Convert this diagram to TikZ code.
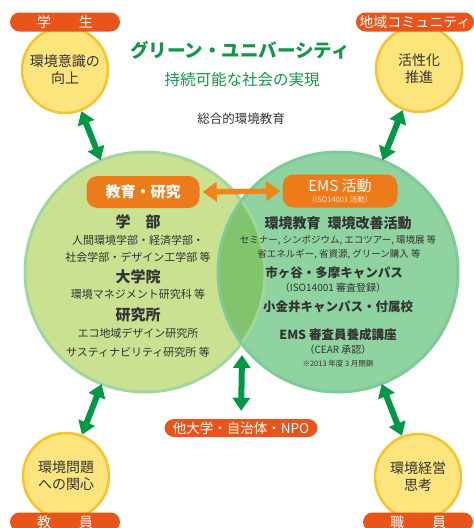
\documentclass[tikz,border=0pt]{standalone}
\usepackage{fontspec}
\setmainfont{Noto Sans CJK JP}
\usetikzlibrary{arrows.meta}
\definecolor{cgreen}{HTML}{009844}
\definecolor{ctitle}{HTML}{13954A}
\definecolor{ctext}{HTML}{333333}
\definecolor{cyel}{HTML}{FDE47C}
\definecolor{cyelb}{HTML}{F8C330}
\definecolor{cpill}{HTML}{E8541A}
\definecolor{cobox}{HTML}{EE7B1A}
\definecolor{corange}{HTML}{F08519}
\definecolor{cLfill}{HTML}{C9E191}
\definecolor{cLbord}{HTML}{A3D69E}
\definecolor{cRfill}{HTML}{8FD3A1}
\definecolor{cRbord}{HTML}{7DCB97}
\definecolor{cOver}{HTML}{80C46B}
\definecolor{csub}{HTML}{FCE3C8}
\tikzset{
 big/.style={circle, minimum size=240pt, inner sep=0pt},
 small/.style={circle, minimum size=86pt, inner sep=0pt, fill=cyel, draw=cyelb, line width=2.5pt, align=center, text=ctext, font=\fontsize{14}{17}\selectfont},
 pill/.style={rounded corners=9.5pt, fill=cpill, minimum height=19pt, inner sep=0pt, text=white, font=\fontsize{14}{14}\selectfont},
 obox/.style={rounded corners=11pt, fill=cobox, text=white, inner sep=0pt, align=center},
 garrow/.style={draw=cgreen, line width=6pt, {Triangle[width=17pt,length=13pt]}-{Triangle[width=17pt,length=13pt]}},
 oarrow/.style={draw=corange, line width=5.5pt, {Triangle[width=19pt,length=14pt]}-{Triangle[width=19pt,length=14pt]}},
 hd/.style={font=\bfseries\fontsize{15}{15}\selectfont, text=ctext, inner sep=0pt},
 hdr/.style={font=\bfseries\fontsize{12.5}{12.5}\selectfont, text=ctext, inner sep=0pt},
 tx/.style={font=\fontsize{11}{11}\selectfont, text=ctext, inner sep=0pt},
 txs/.style={font=\fontsize{9.5}{9.5}\selectfont, text=ctext, inner sep=0pt},
}
\begin{document}
\begin{tikzpicture}[x=1pt,y=-1pt]
\useasboundingbox (0,0) rectangle (474,528);
% big circles
\node[big, fill=cLfill] (L) at (145,272) {};
\node[big, fill=cRfill] (R) at (338,272) {};
\begin{scope}
\clip (145,272) circle[radius=120pt];
\fill[cOver] (338,272) circle[radius=120pt];
\end{scope}
\draw[cLbord, line width=3pt] (L.center) circle[radius=120pt];
\draw[cRbord, line width=3pt] (R.center) circle[radius=120pt];
% header
\node[font=\bfseries\fontsize{18.5}{18.5}\selectfont, text=ctitle] (title) at (240,50) {グリーン・ユニバーシティ};
\node[font=\fontsize{15.5}{15.5}\selectfont, text=ctitle] (subtitle) at (242,80) {持続可能な社会の実現};
\node[font=\fontsize{12.5}{12.5}\selectfont, text=ctext] (sogo) at (241,119) {総合的環境教育};
% small circles
\node[small] (s1) at (65,70) {環境意識の\\向上};
\node[small] (s2) at (419,69) {活性化\\推進};
\node[small] (s3) at (66,476) {環境問題\\への関心};
\node[small] (s4) at (418,477) {環境経営\\思考};
% pills
\node[pill, minimum width=110pt] (p1) at (65,22) {学\hspace{2em}生};
\node[pill, minimum width=118pt] (p2) at (415,22) {地域コミュニティ};
\node[pill, minimum width=110pt] (p3) at (65,522) {教\hspace{2em}員};
\node[pill, minimum width=110pt] (p4) at (418,522) {職\hspace{2em}員};
\node[pill, minimum width=153pt, minimum height=18pt, font=\fontsize{13.5}{13.5}\selectfont] (other) at (241,428) {他大学・自治体・NPO};
% green arrows
\draw[garrow] (s1) -- (L);
\draw[garrow] (s2) -- (R);
\draw[garrow] (s3) -- (L);
\draw[garrow] (s4) -- (R);
\coordinate (ctop) at (242,355);
\draw[garrow, shorten >=8pt] (ctop) -- (other.north);
% orange boxes
\node[obox, minimum width=113pt, minimum height=32pt, font=\bfseries\fontsize{15}{15}\selectfont] (kyo) at (143,192) {教育・研究};
\node[obox, minimum width=115pt, minimum height=33pt] (ems) at (340,191) {};
\node[text=white, font=\fontsize{15}{15}\selectfont, inner sep=0pt] (emst) at (340,186) {EMS 活動};
\node[text=csub, font=\fontsize{7.5}{7.5}\selectfont, inner sep=0pt] (emss) at (340,200) {（ISO14001 活動）};
\draw[oarrow, shorten <=3pt, shorten >=2pt] (kyo.east) -- (ems.west);
% left circle texts
\node[hd] (l1) at (138,222) {学\hspace{1em}部};
\node[tx] (l2) at (138,240) {人間環境学部・経済学部・};
\node[tx] (l3) at (138,257) {社会学部・デザイン工学部 等};
\node[hd] (l4) at (138,277) {大学院};
\node[tx] (l5) at (138,294) {環境マネジメント研究科 等};
\node[hd] (l6) at (138,315) {研究所};
\node[tx] (l7) at (138,333) {エコ地域デザイン研究所};
\node[tx] (l8) at (138,352) {サスティナビリティ研究所 等};
% right circle texts
\node[hd, font=\bfseries\fontsize{14}{14}\selectfont] (r1) at (338,223) {環境教育\hspace{0.5em}環境改善活動};
\node[txs] (r2) at (338,240) {セミナー, シンポジウム, エコツアー, 環境展 等};
\node[txs] (r3) at (339,254) {省エネルギー, 省資源, グリーン購入 等};
\node[hdr] (r4) at (334,273) {市ヶ谷・多摩キャンパス};
\node[tx, font=\fontsize{10}{10}\selectfont] (r5) at (333,288) {（ISO14001 審査登録）};
\node[hdr] (r6) at (338,307) {小金井キャンパス・付属校};
\node[hdr] (r7) at (338,335) {EMS 審査員養成講座};
\node[tx, font=\fontsize{10}{10}\selectfont] (r8) at (338,350) {（CEAR 承認）};
\node[tx, font=\fontsize{7.5}{7.5}\selectfont] (r9) at (338,364) {※2013 年度 3 月閉鎖};
\end{tikzpicture}
\end{document}
